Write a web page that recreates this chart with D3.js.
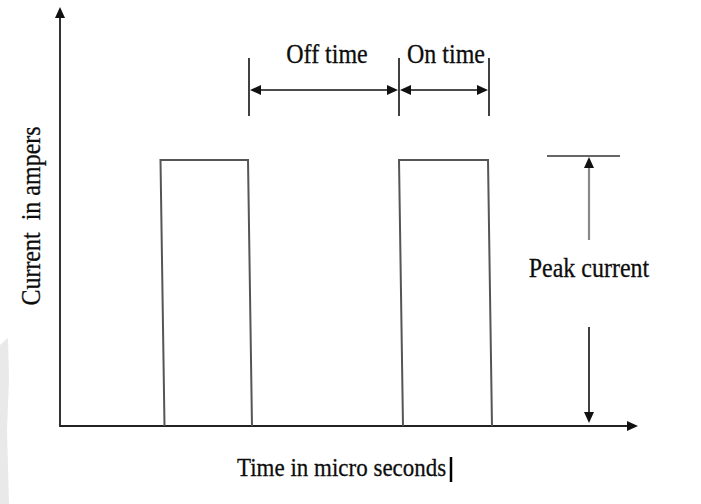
<!DOCTYPE html>
<html>
<body style="margin: 0; background: #fff">
  <script src="https://d3js.org/d3.v7.min.js"></script>

  <script>
    // pulse train, time in micro seconds (arbitrary units), current normalised to peak
    const pulseOn = [10.15, 34.0];
    const pulseOff = [19.0, 43.0];
    const peakCurrent = [1];
    const timeMax = [58];

    const labels = {
      xTitle: "Time in micro seconds",
      yTitle: "Current  in ampers",
      off: "Off time",
      on: "On time",
      peak: "Peak current"
    };

    const width = 701;
    const height = 504;
    const FONT = "'Liberation Serif', 'Times New Roman', serif";
    const STRETCH = 1.12;

    const svg = d3.select("body").append("svg")
      .attr("width", width)
      .attr("height", height);

    const x = d3.scaleLinear().domain([0, timeMax[0]]).range([60, 640]);
    const y = d3.scaleLinear().domain([0, peakCurrent[0]]).range([426, 160]);

    // faint scan smudge at the lower left edge
    svg.append("path")
      .attr("d", "M0,345 L8,338 L9,380 L7,430 L9,504 L0,504 Z")
      .style("fill", "#e9e9e9");

    const arrowHead = (tx, ty, angle, fill) => {
      // triangle with tip at (tx, ty), pointing in direction angle (deg)
      svg.append("path")
        .attr("d", "M0,0 L-11,-5 L-11,5 Z")
        .attr("transform", `translate(${tx},${ty}) rotate(${angle})`)
        .style("fill", fill);
    };

    const label = (tx, ty, txt, size, anchor, rot) => {
      return svg.append("text")
        .attr("transform", `translate(${tx},${ty}) rotate(${rot || 0}) scale(1,${STRETCH})`)
        .attr("text-anchor", anchor)
        .style("white-space", "pre")
        .style("font-family", FONT)
        .style("font-size", size + "px")
        .style("fill", "#0d0d0d")
        .style("stroke", "#0d0d0d")
        .style("stroke-width", 0.25)
        .text(txt);
    };

    // axes
    svg.append("line")
      .attr("x1", x(0)).attr("y1", y(0) + 1)
      .attr("x2", x(0)).attr("y2", 12)
      .style("stroke", "#333").style("stroke-width", 2);
    arrowHead(x(0), 7, -90, "#111");

    svg.append("line")
      .attr("x1", x(0)).attr("y1", y(0))
      .attr("x2", 630).attr("y2", y(0))
      .style("stroke", "#222").style("stroke-width", 2);
    arrowHead(638, y(0), 0, "#111");

    // pulses (drawn with a slight lean, like the original sketch)
    const lean = 3;
    const pulses = pulseOn.map((d, i) => ({on: d, off: pulseOff[i]}));
    svg.selectAll("path.pulse")
      .data(pulses)
      .enter()
      .append("path")
      .attr("class", "pulse")
      .attr("d", (d) => {
        return `M${x(d.on) + lean},${y(0)} L${x(d.on) - 1},${y(peakCurrent[0])}`
          + ` L${x(d.off) - 2},${y(peakCurrent[0])} L${x(d.off) + 2},${y(0)}`;
      })
      .style("fill", "none")
      .style("stroke", "#555")
      .style("stroke-width", 2);

    // off / on time dimension
    const dimY = 90;
    const ticks = [pulseOff[0], pulseOn[1], pulseOff[1]];
    svg.selectAll("line.tick")
      .data(ticks)
      .enter()
      .append("line")
      .attr("class", "tick")
      .attr("x1", (d) => x(d) - 1).attr("x2", (d) => x(d) - 1)
      .attr("y1", 58).attr("y2", 116)
      .style("stroke", "#111").style("stroke-width", 1.6);

    const spans = [[ticks[0], ticks[1]], [ticks[1], ticks[2]]];
    spans.forEach((s) => {
      const a = x(s[0]) - 1;
      const b = x(s[1]) - 1;
      svg.append("line")
        .attr("x1", a + 6).attr("x2", b - 6)
        .attr("y1", dimY).attr("y2", dimY)
        .style("stroke", "#111").style("stroke-width", 1.6);
      arrowHead(a + 1, dimY, 180, "#111");
      arrowHead(b - 1, dimY, 0, "#111");
    });

    label((x(ticks[0]) + x(ticks[1])) / 2 + 2, 63, labels.off, 24, "middle");
    label((x(ticks[1]) + x(ticks[2])) / 2 + 1, 63, labels.on, 24, "middle");

    // peak current marker
    const px = 589;
    svg.append("line")
      .attr("x1", 547).attr("x2", 620)
      .attr("y1", y(peakCurrent[0]) - 4).attr("y2", y(peakCurrent[0]) - 4)
      .style("stroke", "#333").style("stroke-width", 1.6);
    svg.append("line")
      .attr("x1", px).attr("x2", px)
      .attr("y1", 240).attr("y2", y(peakCurrent[0]) + 6)
      .style("stroke", "#888").style("stroke-width", 2.2);
    arrowHead(px, y(peakCurrent[0]) - 3, -90, "#111");

    svg.append("line")
      .attr("x1", px).attr("x2", px)
      .attr("y1", 327).attr("y2", y(0) - 8)
      .style("stroke", "#111").style("stroke-width", 1.6);
    arrowHead(px, y(0) - 3, 90, "#111");

    label(px, 277, labels.peak, 24, "middle");

    // axis titles
    label(237, 476, labels.xTitle, 23, "start");
    // text cursor left in the original
    svg.append("line")
      .attr("x1", 451).attr("x2", 451)
      .attr("y1", 457).attr("y2", 482)
      .style("stroke", "#000").style("stroke-width", 2.5);

    label(40, 216, labels.yTitle, 24, "middle", -90);
  </script>
</body>
</html>
